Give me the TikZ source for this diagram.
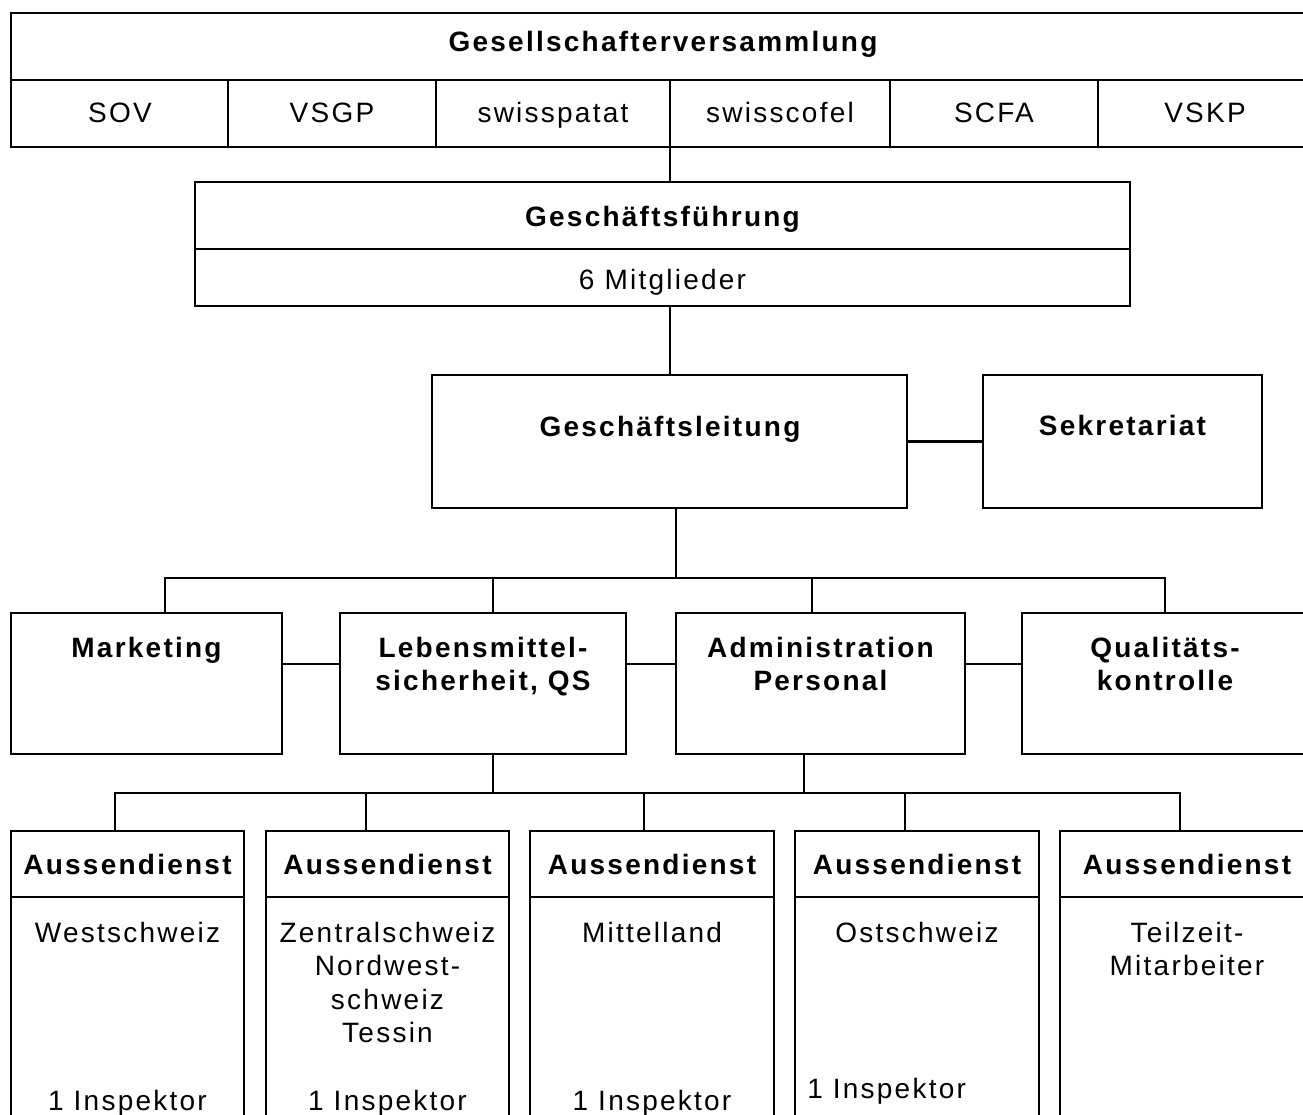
\documentclass[tikz,border=0pt]{standalone}
\usepackage{fontspec}
\setmainfont{Liberation Sans}[LetterSpace=8]
\begin{document}
\begin{tikzpicture}[x=1pt,y=-1pt,line width=2.5pt,
  box/.style={draw,rectangle,inner sep=0pt,outer sep=0pt,line width=2.5pt},
  lbl/.style={anchor=base,inner sep=0pt,font=\fontsize{28}{33.5}\selectfont},
  blbl/.style={anchor=base,inner sep=0pt,font=\fontsize{28}{33.5}\selectfont\bfseries}]
\useasboundingbox (0,0) rectangle (1303,1115);
\clip (0,0) rectangle (1303,1115);
% ---------- boxes ----------
\node[box,minimum width=1304pt,minimum height=134pt] (gv) at (663,80) {};
\node[box,minimum width=935pt,minimum height=124pt] (gf) at (662.5,244) {};
\node[box,minimum width=475pt,minimum height=133pt] (gl) at (669.5,441.5) {};
\node[box,minimum width=279pt,minimum height=133pt] (sek) at (1122.5,441.5) {};
\node[box,minimum width=271pt,minimum height=141pt] (mkt) at (146.5,683.5) {};
\node[box,minimum width=286pt,minimum height=141pt] (leb) at (483,683.5) {};
\node[box,minimum width=289pt,minimum height=141pt] (adm) at (820.5,683.5) {};
\node[box,minimum width=286pt,minimum height=141pt] (qk) at (1165,683.5) {};
\node[box,minimum width=233pt,minimum height=300pt] (a1) at (127.5,981) {};
\node[box,minimum width=243pt,minimum height=300pt] (a2) at (387.5,981) {};
\node[box,minimum width=244pt,minimum height=300pt] (a3) at (652,981) {};
\node[box,minimum width=244pt,minimum height=300pt] (a4) at (917,981) {};
\node[box,minimum width=254pt,minimum height=300pt] (a5) at (1187,981) {};
% ---------- inner dividers ----------
\draw (gv.west) -- (gv.east);
\foreach \cx in {228,436,670,890,1098} \draw (\cx,80) -- (\cx,147);
\coordinate (gfdiv) at (0,249);
\draw (gf.west |- gfdiv) -- (gf.east |- gfdiv);
\coordinate (adiv) at (0,897);
\foreach \b in {a1,a2,a3,a4,a5} \draw (\b.west |- adiv) -- (\b.east |- adiv);
% ---------- helper coordinates ----------
\coordinate (xa) at (670,0);
\coordinate (xb) at (676,0);
\coordinate (bus1) at (0,578);
\coordinate (bus2) at (0,793);
\coordinate (yh) at (0,664);
\coordinate (dm) at (165,0);
\coordinate (dl) at (493,0);
\coordinate (da) at (812,0);
\coordinate (dq) at (1165,0);
\coordinate (dd) at (804,0);
\coordinate (e1) at (115,0);
\coordinate (e2) at (366,0);
\coordinate (e3) at (644,0);
\coordinate (e4) at (905,0);
\coordinate (e5) at (1180,0);
% ---------- connectors ----------
\draw (gv.south -| xa) -- (gf.north -| xa);
\draw (gf.south -| xa) -- (gl.north -| xa);
\draw (gl.east) -- (sek.west);
\draw (gl.south -| xb) -- (xb |- bus1);
\draw (mkt.north -| dm) -- (dm |- bus1) -- (dq |- bus1) -- (qk.north -| dq);
\draw (leb.north -| dl) -- (dl |- bus1);
\draw (adm.north -| da) -- (da |- bus1);
\draw (mkt.east |- yh) -- (leb.west |- yh);
\draw (leb.east |- yh) -- (adm.west |- yh);
\draw (adm.east |- yh) -- (qk.west |- yh);
\draw (leb.south -| dl) -- (dl |- bus2);
\draw (adm.south -| dd) -- (dd |- bus2);
\draw (a1.north -| e1) -- (e1 |- bus2) -- (e5 |- bus2) -- (a5.north -| e5);
\draw (a2.north -| e2) -- (e2 |- bus2);
\draw (a3.north -| e3) -- (e3 |- bus2);
\draw (a4.north -| e4) -- (e4 |- bus2);
% ---------- texts ----------
\node[blbl] (tgv) at (663,52) {Gesellschafterversammlung};
\node[lbl] (t1) at (120,123) {SOV};
\node[lbl] (t2) at (332,123) {VSGP};
\node[lbl] (t3) at (553,123) {swisspatat};
\node[lbl] (t4) at (780,123) {swisscofel};
\node[lbl] (t5) at (994,123) {SCFA};
\node[lbl] (t6) at (1205,123) {VSKP};
\node[blbl] (tgf) at (662.5,227) {Geschäftsführung};
\node[lbl] (tgf2) at (662.5,290) {6 Mitglieder};
\node[blbl] (tgl) at (670,436) {Geschäftsleitung};
\node[blbl] (tsek) at (1122.5,435) {Sekretariat};
\node[blbl] (tmkt) at (146.5,657) {Marketing};
\node[blbl] (tleb1) at (483,657) {Lebensmittel-};
\node[blbl] (tleb2) at (483,690.5) {sicherheit, QS};
\node[blbl] (tadm1) at (820.5,657) {Administration};
\node[blbl] (tadm2) at (820.5,690.5) {Personal};
\node[blbl] (tqk1) at (1165,657) {Qualitäts-};
\node[blbl] (tqk2) at (1165,690.5) {kontrolle};
\foreach \b in {a1,a2,a3,a4,a5} \node[blbl] (h\b) at (\b.center |- 0,874) {Aussendienst};
\node[lbl] (w1) at (127.5,942) {Westschweiz};
\node[lbl] (w2) at (127.5,1110) {1 Inspektor};
\node[lbl] (z1) at (387.5,942) {Zentralschweiz};
\node[lbl] (z2) at (387.5,975.5) {Nordwest-};
\node[lbl] (z3) at (387.5,1009) {schweiz};
\node[lbl] (z4) at (387.5,1042.5) {Tessin};
\node[lbl] (z5) at (387.5,1110) {1 Inspektor};
\node[lbl] (m1) at (652,942) {Mittelland};
\node[lbl] (m2) at (652,1110) {1 Inspektor};
\node[lbl] (o1) at (917,942) {Ostschweiz};
\node[lbl,anchor=base west] (o2) at (806,1098) {1 Inspektor};
\node[lbl] (p1) at (1187,942) {Teilzeit-};
\node[lbl] (p2) at (1187,975.5) {Mitarbeiter};
\end{tikzpicture}
\end{document}
